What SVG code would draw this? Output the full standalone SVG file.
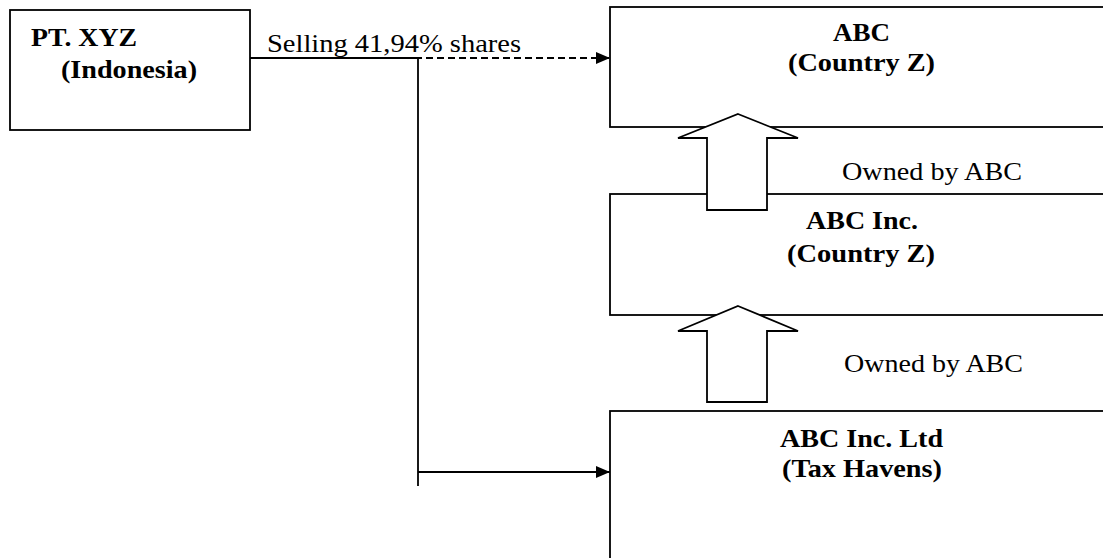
<svg xmlns="http://www.w3.org/2000/svg" width="1103" height="558" viewBox="0 0 1103 558">
<style>
.box{fill:#fff;stroke:#000;stroke-width:1.8}
.b{font-family:"Liberation Serif","Times New Roman",serif;font-weight:bold;font-size:26px;fill:#000}
.r{font-family:"Liberation Serif","Times New Roman",serif;font-size:25px;fill:#000}
.ln{fill:none;stroke:#000;stroke-width:1.8}
.blk{fill:#fff;stroke:#000;stroke-width:1.8;stroke-linejoin:miter}
</style>
<defs>
<marker id="ah" markerWidth="14" markerHeight="12" refX="14" refY="6" orient="auto" markerUnits="userSpaceOnUse">
<path d="M0,0 L14,6 L0,12 Z" fill="#000"/>
</marker>
</defs>
<g id="pt-xyz">
<rect class="box" x="10" y="10" width="240" height="120"/>
<text class="b" x="31" y="46" textLength="106" lengthAdjust="spacingAndGlyphs">PT. XYZ</text>
<text class="b" x="61" y="78" textLength="136" lengthAdjust="spacingAndGlyphs">(Indonesia)</text>
</g>
<g id="abc">
<rect class="box" x="610" y="7" width="510" height="120"/>
<text class="b" x="833" y="41" textLength="57" lengthAdjust="spacingAndGlyphs">ABC</text>
<text class="b" x="788" y="71" textLength="147" lengthAdjust="spacingAndGlyphs">(Country Z)</text>
</g>
<g id="abc-inc">
<rect class="box" x="610" y="194" width="510" height="121"/>
<text class="b" x="806" y="229" textLength="112" lengthAdjust="spacingAndGlyphs">ABC Inc.</text>
<text class="b" x="787" y="262" textLength="148" lengthAdjust="spacingAndGlyphs">(Country Z)</text>
</g>
<g id="abc-inc-ltd">
<rect class="box" x="610" y="411" width="510" height="170"/>
<text class="b" x="780" y="447" textLength="163" lengthAdjust="spacingAndGlyphs">ABC Inc. Ltd</text>
<text class="b" x="782" y="477" textLength="160" lengthAdjust="spacingAndGlyphs">(Tax Havens)</text>
</g>
<g id="connectors">
<line class="ln" x1="250" y1="58" x2="610" y2="58" stroke-dasharray="7,4" marker-end="url(#ah)"/>
<line class="ln" x1="250" y1="58" x2="418" y2="58"/>
<line class="ln" x1="418" y1="58" x2="418" y2="486"/>
<line class="ln" x1="418" y1="472" x2="610" y2="472" marker-end="url(#ah)"/>
<path class="blk" d="M738,114 L798,138 L767,138 L767,210 L707,210 L707,138 L678,138 Z"/>
<path class="blk" d="M738,306 L798,331 L767,331 L767,402 L707,402 L707,331 L678,331 Z"/>
<text class="r" x="267" y="52" textLength="254" lengthAdjust="spacingAndGlyphs">Selling 41,94% shares</text>
<text class="r" x="842" y="180" textLength="180" lengthAdjust="spacingAndGlyphs">Owned by ABC</text>
<text class="r" x="844" y="372" textLength="179" lengthAdjust="spacingAndGlyphs">Owned by ABC</text>
</g>
</svg>
